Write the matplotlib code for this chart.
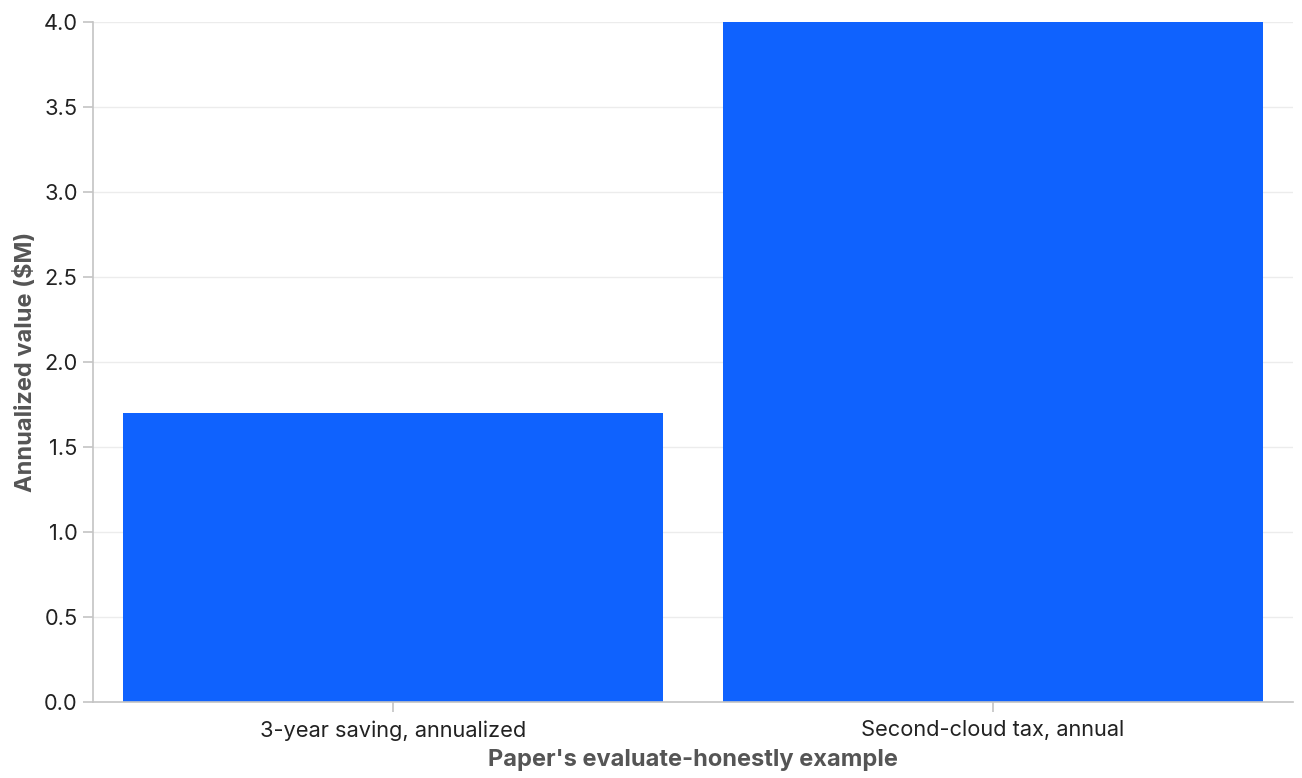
import matplotlib
matplotlib.use("Agg")
import matplotlib.pyplot as plt
import numpy as np

categories = ["3-year saving, annualized", "Second-cloud tax, annual"]
values = [1.7, 4.0]
yticks = [0.0, 0.5, 1.0, 1.5, 2.0, 2.5, 3.0, 3.5, 4.0]

plt.rcParams['font.family'] = ['Inter', 'DejaVu Sans']

fig = plt.figure(figsize=(13.02, 7.78), dpi=100)
ax = fig.add_axes([93/1302, 76/778, 1200/1302, 680/778])

x = np.arange(len(categories))
ax.bar(x, values, width=0.9, color="#0f62fe", zorder=2)

ax.set_xlim(-0.5, len(categories) - 0.5)
ax.set_ylim(0, 4.0)
ax.set_yticks(yticks)
ax.set_yticklabels([f"{v:.1f}" for v in yticks])
ax.set_xticks(x)
ax.set_xticklabels(categories)

ax.grid(axis="y", color="#ececec", linewidth=1, zorder=0)
for s in ["top", "right"]:
    ax.spines[s].set_visible(False)
for s in ["left", "bottom"]:
    ax.spines[s].set_color("#c4c4c4")
    ax.spines[s].set_linewidth(1.2)
    ax.spines[s].set_zorder(3)

ax.tick_params(axis="both", length=7, width=1.2, color="#c4c4c4",
               labelsize=15.7, labelcolor="#222222", pad=4)
ax.tick_params(axis="x", pad=6)

ax.set_xlabel("Paper's evaluate-honestly example", fontsize=17, fontweight="bold",
              color="#555555", labelpad=6)
ax.set_ylabel("Annualized value ($M)", fontsize=17, fontweight="bold",
              color="#555555", labelpad=5)

fig.savefig("out.png", dpi=100)
